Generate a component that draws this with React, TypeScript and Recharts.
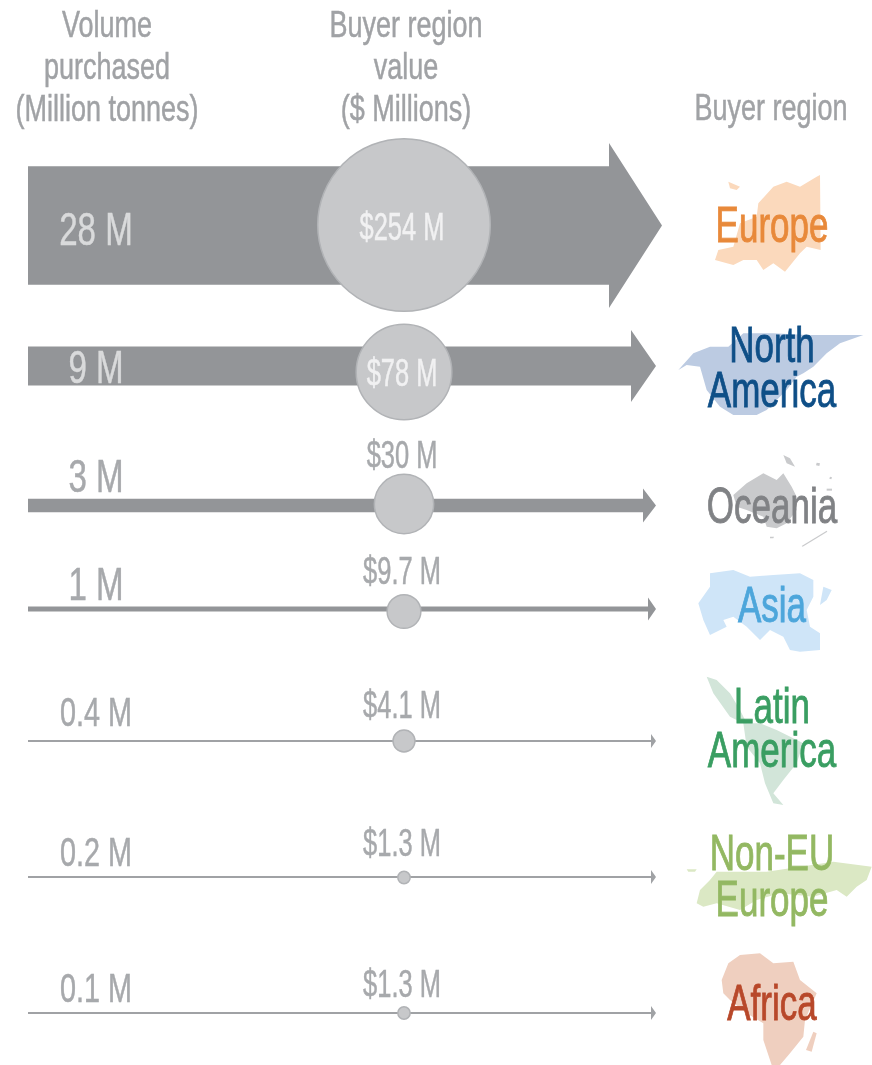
import { Scatter, ScatterChart, XAxis, YAxis, ZAxis } from "recharts";

const regions = ["Europe", "North America", "Oceania", "Asia", "Latin America", "Non-EU Europe", "Africa"];
const volumes = [28, 9, 3, 1, 0.4, 0.2, 0.1];
const values = [254, 78, 30, 9.7, 4.1, 1.3, 1.3];
const volumeLabels = ["28 M", "9 M", "3 M", "1 M", "0.4 M", "0.2 M", "0.1 M"];
const valueLabels = ["$254 M", "$78 M", "$30 M", "$9.7 M", "$4.1 M", "$1.3 M", "$1.3 M"];

// layout of the rows, in axis units (the axes run 1:1 with the picture)
const shaftY = [225.5, 366, 505.5, 609, 741, 877, 1013];
const bubbleY = [225, 372, 504, 611.5, 741, 877.5, 1013];
const volumeBaseline = [245, 383, 492, 600, 726, 866, 1002];
const valueBaseline = [240, 386, 468, 584, 718, 856, 997];
const headLength = [53, 25, 13, 8, 5, 5, 5];
const headHeight = [165, 72, 34, 23, 14, 14, 14];
const regionColors = ["#e8893a", "#0f4f87", "#808285", "#4da6db", "#3a9e62", "#93b862", "#b8482a"];
const mapColors = ["#fbd9bc", "#bccbe2", "#c9cacc", "#cfe5f8", "#d2e5d9", "#dbe8c4", "#efcfbf"];
const regionLines = [["Europe"], ["North", "America"], ["Oceania"], ["Asia"], ["Latin", "America"], ["Non-EU", "Europe"], ["Africa"]];
const regionBaselines = [[242], [362, 407], [523], [622], [723, 767], [870, 916], [1020]];

const WIDTH = 872;
const HEIGHT = 1065;
const TAIL_X = 28;
const BUBBLE_X = 404;
const TIP_X = 656;
const BIG_TIP_X = 662;

const headerLines = [
  { x: 107, y: 37, text: "Volume" },
  { x: 107, y: 79, text: "purchased" },
  { x: 107, y: 121, text: "(Million tonnes)" },
  { x: 406, y: 37, text: "Buyer region" },
  { x: 406, y: 79, text: "value" },
  { x: 406, y: 121, text: "($ Millions)" },
  { x: 771, y: 120, text: "Buyer region" },
];

const maps: [number, number, string[]][] = [
  [600, 90, [
    "M345 510L355 480L400 470L420 400L470 380L475 340L520 290L560 275L600 290L650 260L660 255L662 480L620 470L600 490L555 545L520 520L490 540L470 510L430 510L400 525Z",
    "M385 275L420 290L410 300L390 295Z",
  ]],
  [600, 90, ["M235 840L280 790L330 770L385 770L430 730L520 730L620 735L790 735L720 760L680 790L640 830L610 850L590 860L560 900L500 960L470 975L400 975L360 950L320 900L300 830L260 825Z"]],
  [600, 430, [
    "M400 195L440 160L490 130L530 150L550 130L575 170L590 200L590 240L560 280L530 295L500 290L490 260L440 240L410 230Z",
    "M550 75L570 85L585 110L560 100Z",
    "M605 348L680 302L682 305L608 350Z",
    "M650 98L660 100L658 108L648 106Z",
    "M690 140L696 142L694 148L688 146Z",
    "M680 176L696 176L696 182L680 182Z",
    "M510 320L522 320L520 325L510 325Z",
  ]],
  [600, 430, [
    "M295 520L330 470L345 480L355 500L330 470L330 430L400 420L450 440L520 435L600 430L640 450L640 500L620 540L630 590L660 610L660 660L600 665L570 660L550 620L510 600L480 630L440 590L400 560L370 570L380 590L330 615L310 570Z",
    "M670 470L695 480L680 510L660 525Z",
  ]],
  [600, 430, ["M320 740L350 750L390 790L420 840L440 880L480 880L530 900L610 940L590 1000L550 1050L520 1090L550 1125L520 1120L495 1060L480 1000L440 950L430 880L390 860L340 790Z"]],
  [600, 800, [
    "M290 310L300 270L330 240L350 215L500 215L600 200L700 185L815 200L800 240L770 260L740 290L710 270L640 290L540 280L470 300L420 330L350 310L310 320Z",
    "M260 208L290 208L285 215L265 215Z",
  ]],
  [600, 800, [
    "M365 540L385 490L420 465L480 460L520 490L580 485L600 540L650 580L615 660L610 710L570 760L540 795L515 795L490 720L490 670L440 640L390 600L370 580Z",
    "M640 695L650 700L635 755L618 750Z",
  ]],
];

const arrowRows = regions.map((region, i) => ({
  region,
  x: i === 0 ? BIG_TIP_X : TIP_X,
  y: shaftY[i],
  volume: volumes[i],
  head: headLength[i],
  spread: headHeight[i],
}));
const bubbleRows = regions.map((region, i) => ({ region, x: BUBBLE_X, y: bubbleY[i], value: values[i] }));
const volumeRows = volumeLabels.map((text, i) => ({
  x: 96,
  y: volumeBaseline[i],
  text,
  color: i < 2 ? "#d9dadb" : "#a7a9ac",
  size: i < 4 ? 46 : 40,
}));
const valueRows = valueLabels.map((text, i) => ({
  x: 402,
  y: valueBaseline[i],
  text,
  color: i < 2 ? "#f1f1f2" : "#a7a9ac",
}));
const regionRows = regions.map((region, i) => ({
  region,
  x: 772,
  y: regionBaselines[i][0],
  index: i,
}));

// shaft thickness follows the tonnage, with a hairline floor for the small rows
function shaftThickness(volume: number) {
  return volume < 1 ? 1.8 : 1 + 4.2 * volume;
}

function Arrow({ cx, cy, payload }: any) {
  const half = shaftThickness(payload.volume) / 2;
  const neck = cx - payload.head;
  const tail = cx - (payload.x - TAIL_X);
  const d = `M${tail} ${cy - half}L${neck} ${cy - half}L${neck} ${cy - payload.spread / 2}L${cx} ${cy}L${neck} ${cy + payload.spread / 2}L${neck} ${cy + half}L${tail} ${cy + half}Z`;
  return <path d={d} fill={payload.volume < 1 ? "#a0a2a5" : "#939598"} />;
}

function Condensed({ x, y, text, size, fill, sx = 0.72, weight = 0.5 }: any) {
  return (
    <text
      fill={fill}
      fontFamily="'Liberation Sans Narrow', 'Liberation Sans', sans-serif"
      fontSize={size}
      stroke={fill}
      strokeWidth={weight}
      textAnchor="middle"
      transform={`translate(${x} ${y}) scale(${sx} 1)`}
    >
      {text}
    </text>
  );
}

function RegionMark({ cx, payload }: any) {
  const i = payload.index;
  const [ox, oy, paths] = maps[i];
  return (
    <g>
      <g transform={`translate(${ox} ${oy}) scale(${1 / 3})`}>
        {paths.map((d) => <path d={d} fill={mapColors[i]} key={d} />)}
      </g>
      {regionLines[i].map((line, k) => (
        <Condensed fill={regionColors[i]} key={line} size={50} sx={0.7} text={line} weight={0.9} x={cx} y={regionBaselines[i][k]} />
      ))}
    </g>
  );
}

export default function App() {
  return (
    <div style={{ filter: "blur(0.4px)", left: 0, position: "absolute", top: 0 }}>
      <ScatterChart height={HEIGHT} margin={{ bottom: 0, left: 0, right: 0, top: 0 }} width={WIDTH}>
        <XAxis dataKey="x" domain={[0, WIDTH]} hide type="number" />
        <YAxis dataKey="y" domain={[0, HEIGHT]} hide reversed type="number" />
        <ZAxis dataKey="value" domain={[0, 254]} range={[0, 23400]} scale="linear" type="number" />
        <Scatter data={regionRows} isAnimationActive={false} shape={RegionMark} />
        <Scatter data={arrowRows} isAnimationActive={false} shape={Arrow} />
        <Scatter
          data={bubbleRows}
          fill="#c7c8ca"
          isAnimationActive={false}
          stroke="#b1b3b6"
          strokeWidth={1.5}
        />
        <Scatter
          data={volumeRows}
          isAnimationActive={false}
          shape={({ cx, cy, payload }: any) => (
            <Condensed fill={payload.color} size={payload.size} text={payload.text} x={cx} y={cy} />
          )}
        />
        <Scatter
          data={valueRows}
          isAnimationActive={false}
          shape={({ cx, cy, payload }: any) => (
            <Condensed fill={payload.color} size={38} sx={0.67} text={payload.text} x={cx} y={cy} />
          )}
        />
        <Scatter
          data={headerLines}
          isAnimationActive={false}
          shape={({ cx, cy, payload }: any) => (
            <Condensed fill="#a0a2a5" size={37} sx={0.73} text={payload.text} x={cx} y={cy} />
          )}
        />
      </ScatterChart>
    </div>
  );
}
